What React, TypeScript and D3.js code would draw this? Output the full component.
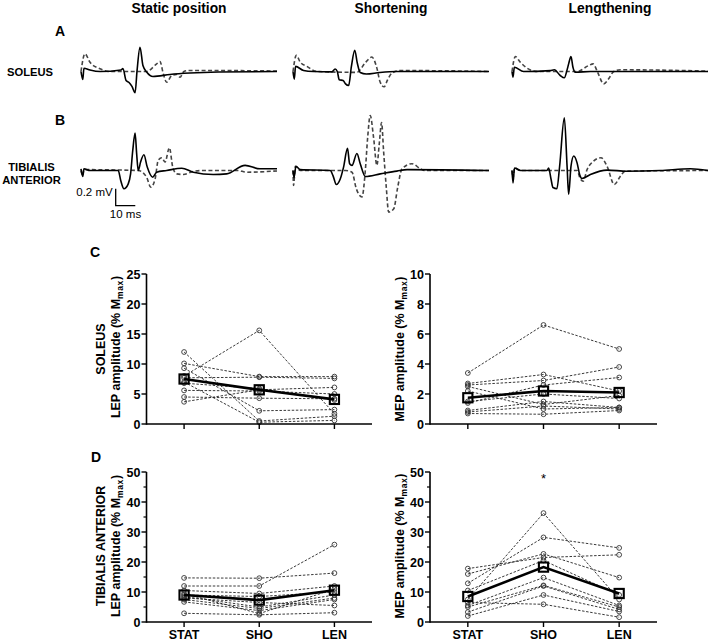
import React from 'react';
import * as d3 from 'd3';

// ---------- DATA ----------
const conditions = ['Static position', 'Shortening', 'Lengthening'];
const categories = ['STAT', 'SHO', 'LEN'];

// EMG traces: [time ms, amplitude mV]
const solStatSolid: [number, number][] = [[0,0],[0.9,-0.094],[1.5,0.039],[4.6,0.018],[9.7,0],[20.4,0.018],[21.4,0.035],[23,-0.106],[24.5,-0.13],[26,-0.176],[27.6,-0.25],[28.6,0.01],[30.1,0.286],[31.6,0.07],[33.7,-0.012],[36.7,-0.059],[45.4,-0.035],[55.6,-0.018],[70,-0.006],[100,0]];
const solStatDash: [number, number][] = [[0,0],[2,0.208],[4.6,0.109],[9.7,0.032],[14.8,0],[33.5,0],[38.6,0.09],[40.3,0.118],[42,-0.027],[43.7,-0.126],[46.3,-0.047],[48.8,-0.035],[50.5,-0.067],[52.5,0],[54.6,0.012],[80,0.01],[100,0.006]];
const solShoSolid: [number, number][] = [[0,0],[0.66,-0.09],[1.3,0.06],[5.4,0.012],[10.5,0],[19.8,-0.004],[21.5,0.03],[22.6,0],[23.6,-0.098],[25.6,-0.106],[26.8,-0.145],[28.4,-0.165],[29.8,0.06],[31.5,0.25],[32.8,0.1],[34.3,-0.012],[37.4,-0.03],[44.2,-0.012],[52.7,0],[100,0]];
const solShoDash: [number, number][] = [[0,0],[1.7,0.19],[3.7,0.11],[7.1,0.06],[12.2,0],[32.6,-0.01],[36.8,0.1],[40.2,0.17],[42.8,0.04],[44.4,-0.12],[46.5,-0.18],[48.2,-0.1],[50.4,-0.02],[54.6,0.01],[65,0.01],[100,0]];
const solLenSolid: [number, number][] = [[0,0],[0.5,-0.067],[1.2,0.05],[5.9,0],[19.5,0.01],[21.6,0.02],[24.6,-0.047],[26.7,-0.074],[28,0.01],[28.9,0.09],[30.1,0.176],[31.1,0.05],[32.3,-0.008],[40,0],[100,0]];
const solLenDash: [number, number][] = [[0,0],[1.7,0.176],[4.2,0.11],[7.65,0.04],[13,0],[33.2,0],[39.1,0.07],[41.4,0.09],[43.7,-0.01],[46.8,-0.145],[49.3,-0.086],[51.9,0],[55.3,0.02],[100,0.005]];

const taStatSolid: [number, number][] = [[0,0.02],[0.9,-0.07],[1.5,0.02],[4.6,0],[19,0],[20.3,-0.12],[21.9,-0.215],[24.1,-0.157],[25.3,-0.04],[26.4,0.235],[27.6,0.44],[28.4,0.196],[29.2,0],[30.4,0.1],[32.1,0.185],[33.8,0.04],[36.6,-0.08],[38.6,-0.02],[43.7,0],[51.4,0.027],[57.3,-0.02],[67.5,-0.047],[74.3,-0.04],[83.7,0.06],[91.3,0.02],[100,0.02]];
const taStatDash: [number, number][] = [[0,0],[0.9,-0.06],[1.5,0.01],[29.2,0],[33.5,-0.08],[35.6,-0.196],[37.8,-0.1],[39.4,0.12],[41.2,0.15],[42.9,0.1],[45.1,0.267],[46.8,0.04],[48.8,-0.04],[52.2,-0.047],[57.3,-0.01],[62,0],[80,0],[84.5,-0.02],[100,-0.005]];
const taShoSolid: [number, number][] = [[0,0],[0.5,-0.085],[1.5,0.05],[3.7,0.01],[19,0],[20.4,-0.06],[22.1,-0.165],[24.1,-0.1],[25.8,0.04],[27.8,0.26],[28.9,0.08],[30.1,0.06],[32.6,0.2],[34.3,0.08],[36.9,-0.07],[44.5,-0.04],[53,-0.007],[58.2,0.01],[100,0]];
const taShoDash: [number, number][] = [[0,0],[0.3,-0.175],[1.2,0.05],[3.7,0],[26.7,0],[30.1,-0.02],[32.3,-0.214],[35.2,-0.31],[36.9,0],[38.1,0.39],[39.4,0.647],[41.1,0.39],[42.8,0.06],[44,0.31],[45.2,0.565],[46.2,0.235],[47.6,-0.2],[48.8,-0.49],[51.4,-0.45],[53.4,-0.2],[55.6,0.02],[60.7,0.08],[65,0.02],[67,0],[100,0]];
const taLenSolid: [number, number][] = [[0,0],[0.5,-0.145],[1.3,0.03],[4.4,0],[17.8,0],[18.7,0.03],[19.9,-0.1],[20.9,-0.2],[22.9,-0.215],[24.3,0.05],[26.7,0.62],[28.1,0.05],[28.9,-0.28],[30.1,0.05],[31.5,0.17],[33.2,0.09],[34.5,-0.047],[35.7,-0.094],[40,-0.047],[48.5,0.004],[58.7,-0.008],[75.7,0],[91,0.02],[100,0]];
const taLenDash: [number, number][] = [[0,0],[0.5,-0.09],[1.3,0.03],[4,0],[33.2,0],[34.9,-0.1],[36.3,-0.125],[38.3,0.01],[41.6,0.11],[45.4,0.15],[48.5,0.05],[52.2,-0.165],[55.3,-0.067],[57.8,-0.008],[100,0]];

const soleusTraces = [[solStatSolid, solStatDash], [solShoSolid, solShoDash], [solLenSolid, solLenDash]];
const taTraces = [[taStatSolid, taStatDash], [taShoSolid, taShoDash], [taLenSolid, taLenDash]];

const scaleBarMs = 10;
const scaleBarMv = 0.2;

// Individual subjects [STAT, SHO, LEN]
const soleusLEP = [[8.0,15.6,1.7],[12.0,0.5,1.3],[10.1,7.9,7.9],[9.3,2.2,2.4],[7.7,7.8,7.6],[5.6,5.5,5.0],[4.5,4.3,4.2],[3.7,5.7,6.1],[7.0,0.3,0.6],[6.8,5.9,4.0]];
const soleusLEPMean = [7.5, 5.7, 4.1];
const soleusMEP = [[3.4,6.6,5.0],[2.7,3.3,2.2],[2.6,2.9,3.8],[2.5,1.3,1.9],[1.4,2.6,3.1],[1.5,2.0,1.7],[0.9,1.5,1.1],[0.8,1.2,1.0],[0.7,0.65,0.9],[2.2,1.0,1.1]];
const soleusMEPMean = [1.75, 2.2, 2.1];
const taLEP = [[14.7,14.6,16.3],[12.0,12.0,25.8],[10.5,9.5,12.0],[9.0,8.5,10.0],[8.5,5.0,9.0],[7.5,4.5,8.0],[6.7,3.8,7.5],[2.9,2.4,3.1],[8.0,6.5,5.5],[9.5,2.8,11.0]];
const taLEPMean = [9.0, 7.3, 10.6];
const taMEP = [[7.5,36.3,7.5],[12.9,28.2,24.7],[17.8,21.5,22.4],[16.0,22.7,14.8],[10.5,20.5,9.0],[5.5,14.8,5.5],[5.0,12.2,5.0],[3.3,12.0,4.2],[2.0,9.0,3.5],[6.5,5.9,1.6]];
const taMEPMean = [8.5, 18.3, 9.5];

const yTicksSoleusLEP = [0, 5, 10, 15, 20, 25];
const yTicksSoleusMEP = [0, 2, 4, 6, 8, 10];
const yTicksTA = [0, 10, 20, 30, 40, 50];
const yMinorTA = [5, 15, 25, 35, 45];

// ---------- COMPONENTS ----------
const FONT = 'Liberation Sans, Arial, Helvetica, sans-serif';

type PanelProps = {
  x0: number; x1: number; yTop: number; yBottom: number;
  domain: [number, number]; ticks: number[]; minor?: number[];
  subjects: number[][]; means: number[]; xLabels: boolean; star?: number;
};

function Panel({ x0, x1, yTop, yBottom, domain, ticks, minor = [], subjects, means, xLabels, star }: PanelProps) {
  const x = d3.scalePoint<string>().domain(categories).range([x0, x1]).padding(0.5);
  const y = d3.scaleLinear().domain(domain).range([yBottom, yTop]);
  const line = d3.line<number>().x((_, i) => x(categories[i]) as number).y(d => y(d));
  return (
    <g>
      {subjects.map((s, i) => (
        <path key={'l' + i} d={line(s) || ''} fill="none" stroke="#222" strokeWidth={0.9} strokeDasharray="2.5,1.6" />
      ))}
      {subjects.map((s, i) => s.map((v, j) => (
        <circle key={'c' + i + '-' + j} cx={x(categories[j])} cy={y(v)} r={2.4} fill="none" stroke="#333" strokeWidth={0.9} />
      )))}
      <path d={line(means) || ''} fill="none" stroke="#000" strokeWidth={2.6} />
      {means.map((v, j) => (
        <rect key={'m' + j} x={(x(categories[j]) as number) - 4.6} y={y(v) - 4.6} width={9.2} height={9.2} fill="none" stroke="#000" strokeWidth={2.1} />
      ))}
      {/* axes */}
      <line x1={x0} x2={x1} y1={yBottom} y2={yBottom} stroke="#000" strokeWidth={1.6} />
      <line x1={x0} x2={x0} y1={yBottom + 0.8} y2={yTop} stroke="#000" strokeWidth={1.6} />
      {ticks.map(t => (
        <g key={'t' + t}>
          <line x1={x0 - 5} x2={x0} y1={y(t)} y2={y(t)} stroke="#000" strokeWidth={1.4} />
          <text x={x0 - 6} y={y(t)} dy="0.36em" textAnchor="end" fontSize={12.5} fontWeight="bold" fontFamily={FONT}>{t}</text>
        </g>
      ))}
      {minor.map(t => (
        <line key={'mn' + t} x1={x0 - 3} x2={x0} y1={y(t)} y2={y(t)} stroke="#000" strokeWidth={1.2} />
      ))}
      {categories.map(c => (
        <line key={'xt' + c} x1={x(c)} x2={x(c)} y1={yBottom} y2={yBottom + 5} stroke="#000" strokeWidth={1.4} />
      ))}
      {xLabels && categories.map(c => (
        <text key={'xl' + c} x={x(c)} y={yBottom + 17} textAnchor="middle" fontSize={12.5} fontWeight="bold" fontFamily={FONT}>{c}</text>
      ))}
      {star !== undefined && (
        <text x={x('SHO')} y={y(star) + 5} textAnchor="middle" fontSize={13} fontFamily={FONT}>*</text>
      )}
    </g>
  );
}

function AmpLabel({ x, y, prefix }: { x: number; y: number; prefix: string }) {
  return (
    <text transform={`translate(${x},${y}) rotate(-90)`} textAnchor="middle" fontSize={12.5} fontWeight="bold" fontFamily={FONT}>
      <tspan>{prefix + ' amplitude (% M'}</tspan>
      <tspan fontSize={8.5} dy={3} letterSpacing={0.6}>max</tspan>
      <tspan dy={-3}>)</tspan>
    </text>
  );
}

export default function App() {
  const colX = [81, 293, 512];
  const traceW = 196;
  const baseA = 71.5;
  const baseB = 170.5;
  const pxPerMv = 85;

  const traceScales = (c: number, base: number) => {
    const xs = d3.scaleLinear().domain([0, 100]).range([colX[c], colX[c] + traceW]);
    const ys = d3.scaleLinear().domain([-1, 1]).range([base + pxPerMv, base - pxPerMv]);
    return { xs, ys };
  };

  const renderTraces = (traces: [number, number][][][], base: number, key: string) =>
    traces.map((pair, c) => {
      const { xs, ys } = traceScales(c, base);
      const ln = d3.line<[number, number]>().x(d => xs(d[0])).y(d => ys(d[1])).curve(d3.curveMonotoneX);
      return (
        <g key={key + c}>
          <path d={ln(pair[1]) || ''} fill="none" stroke="#444" strokeWidth={1.6} strokeDasharray="4,2.5" />
          <path d={ln(pair[0]) || ''} fill="none" stroke="#000" strokeWidth={1.6} />
        </g>
      );
    });

  // scale bar uses static TA trace scales
  const sb = traceScales(0, baseB);
  const sbT0 = 17.7;
  const sbV0 = -0.414;
  const sbX = sb.xs(sbT0), sbY = sb.ys(sbV0);
  const sbX2 = sb.xs(sbT0 + scaleBarMs), sbY2 = sb.ys(sbV0 + scaleBarMv);

  return (
    <svg width={709} height={643} style={{ position: 'absolute', left: 0, top: 0, background: '#fff' }} fontFamily={FONT}>
      <rect x={0} y={0} width={709} height={643} fill="#fff" />
      {conditions.map((t, c) => (
        <text key={t} x={colX[c] + traceW / 2} y={13} textAnchor="middle" fontSize={13.8} fontWeight="bold">{t}</text>
      ))}
      <text x={55} y={36} fontSize={14} fontWeight="bold">A</text>
      <text x={7} y={76} fontSize={11.2} fontWeight="bold">SOLEUS</text>
      <text x={55} y={125} fontSize={14} fontWeight="bold">B</text>
      <text x={31.5} y={171} textAnchor="middle" fontSize={11.2} fontWeight="bold">TIBIALIS</text>
      <text x={31.5} y={184} textAnchor="middle" fontSize={11.2} fontWeight="bold">ANTERIOR</text>

      {renderTraces(soleusTraces as any, baseA, 'a')}
      {renderTraces(taTraces as any, baseB, 'b')}

      <path d={`M${sbX},${sbY2}V${sbY}H${sbX2}`} fill="none" stroke="#000" strokeWidth={1.3} />
      <text x={sbX - 3} y={196} textAnchor="end" fontSize={11.5}>0.2 mV</text>
      <text x={(sbX + sbX2) / 2} y={218} textAnchor="middle" fontSize={11.5}>10 ms</text>

      <text x={90} y={257} fontSize={14} fontWeight="bold">C</text>
      <text x={91} y={462} fontSize={14} fontWeight="bold">D</text>

      <Panel x0={146.5} x1={372} yTop={274} yBottom={424} domain={[0, 25]} ticks={yTicksSoleusLEP}
        subjects={soleusLEP} means={soleusLEPMean} xLabels={false} />
      <Panel x0={430} x1={657} yTop={274} yBottom={424} domain={[0, 10]} ticks={yTicksSoleusMEP}
        subjects={soleusMEP} means={soleusMEPMean} xLabels={false} />
      <Panel x0={146.5} x1={372} yTop={472} yBottom={622} domain={[0, 50]} ticks={yTicksTA} minor={yMinorTA}
        subjects={taLEP} means={taLEPMean} xLabels={true} />
      <Panel x0={430} x1={657} yTop={472} yBottom={622} domain={[0, 50]} ticks={yTicksTA} minor={yMinorTA}
        subjects={taMEP} means={taMEPMean} xLabels={true} star={48} />

      <text transform="translate(105,349) rotate(-90)" textAnchor="middle" fontSize={12.5} fontWeight="bold">SOLEUS</text>
      <AmpLabel x={120} y={347} prefix="LEP" />
      <text transform="translate(105,546) rotate(-90)" textAnchor="middle" fontSize={12.5} fontWeight="bold">TIBIALIS ANTERIOR</text>
      <AmpLabel x={120} y={546} prefix="LEP" />
      <AmpLabel x={404} y={349} prefix="MEP" />
      <AmpLabel x={404} y={546} prefix="MEP" />
    </svg>
  );
}
